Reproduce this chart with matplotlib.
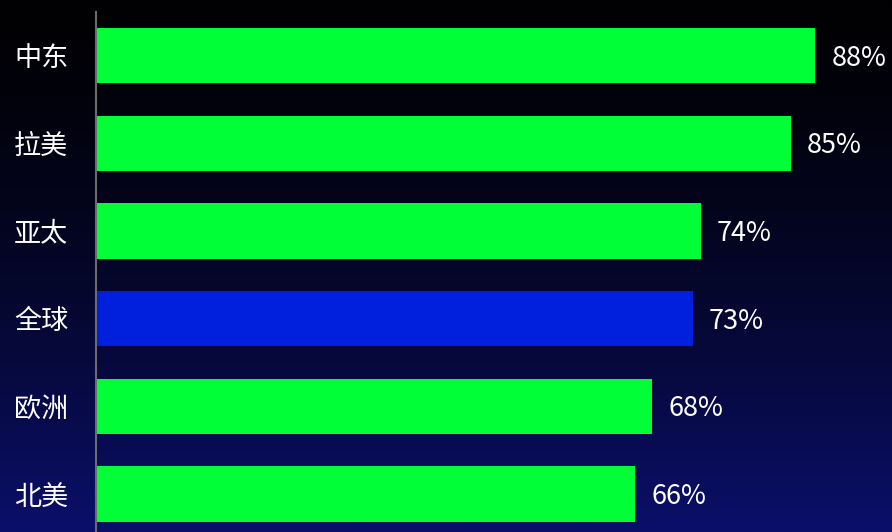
import matplotlib.pyplot as plt
import numpy as np
from matplotlib.colors import LinearSegmentedColormap

plt.rcParams['font.family'] = ['Noto Sans CJK SC', 'DejaVu Sans']

regions = ["中东", "拉美", "亚太", "全球", "欧洲", "北美"]
values = [88, 85, 74, 73, 68, 66]
highlight = "全球"

green = "#00ff37"
blue = "#0020dd"

fig = plt.figure(figsize=(8.92, 5.32), dpi=100)

# background gradient: black at top -> dark navy at bottom
bg = fig.add_axes([0, 0, 1, 1], zorder=0)
t = np.linspace(0, 1, 256) ** 1.5
bg.imshow(t[:, None], aspect="auto", extent=[0, 1, 0, 1],
          cmap=LinearSegmentedColormap.from_list("bg", ["#010104", "#0b0f6a"]))
bg.axis("off")

ax = fig.add_axes([96 / 892, 0, 1 - 96 / 892, 520 / 532], zorder=1)
ax.patch.set_alpha(0)

y = np.arange(len(regions))
colors = [blue if r == highlight else green for r in regions]
bars = ax.barh(y, values, height=0.63, color=colors)

for bar, v in zip(bars, values):
    ax.text(bar.get_width() + 2.0, bar.get_y() + bar.get_height() / 2 + 0.03,
            f"{v}%", va="center", ha="left", color="white", fontsize=19.5)

ax.set_yticks(y)
ax.set_yticklabels(regions, color="white", fontsize=19.5)
ax.tick_params(axis="y", length=0, pad=20)
ax.set_xticks([])
ax.set_xlim(0, 97.4)
ax.set_ylim(5.433, -0.496)

for s in ["top", "right", "bottom"]:
    ax.spines[s].set_visible(False)
ax.spines["left"].set_color("#6b6b6b")
ax.spines["left"].set_linewidth(1.5)

fig.savefig("out.png", dpi=100)
